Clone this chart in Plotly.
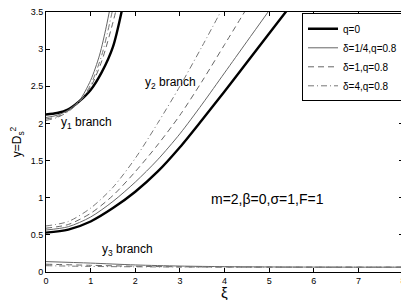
import plotly.graph_objects as go

# ---- data ----
# y1 branch
xi_y1_q0 = [0, 0.25, 0.5, 0.75, 1.0, 1.25, 1.5, 1.7]
y1_q0 = [2.12, 2.14, 2.19, 2.30, 2.45, 2.69, 3.03, 3.52]
xi_y1_d14 = [0, 0.25, 0.5, 0.75, 1.0, 1.2, 1.35, 1.45]
y1_d14 = [2.08, 2.11, 2.18, 2.31, 2.58, 2.92, 3.30, 3.60]
xi_y1_d1 = [0, 0.25, 0.5, 0.75, 1.0, 1.25, 1.5, 1.6]
y1_d1 = [2.06, 2.09, 2.17, 2.29, 2.49, 2.84, 3.36, 3.60]
xi_y1_d4 = [0, 0.25, 0.5, 0.75, 1.0, 1.25, 1.5]
y1_d4 = [2.04, 2.08, 2.16, 2.29, 2.52, 2.92, 3.55]

# y2 branch
xi_y2_q0 = [0, 0.5, 1, 1.5, 2, 2.5, 3, 3.5, 4, 4.5, 5, 5.5]
y2_q0 = [0.53, 0.57, 0.68, 0.86, 1.08, 1.35, 1.68, 2.05, 2.43, 2.82, 3.21, 3.60]
xi_y2_d14 = [0, 0.5, 1, 1.5, 2, 2.5, 3, 3.5, 4, 4.5, 5]
y2_d14 = [0.565, 0.61, 0.74, 0.95, 1.21, 1.51, 1.86, 2.26, 2.68, 3.10, 3.52]
xi_y2_d1 = [0, 0.5, 1, 1.5, 2, 2.5, 3, 3.5, 4, 4.5]
y2_d1 = [0.59, 0.64, 0.79, 1.03, 1.35, 1.71, 2.11, 2.57, 3.06, 3.55]
xi_y2_d4 = [0, 0.5, 1, 1.5, 2, 2.5, 3, 3.5, 4]
y2_d4 = [0.62, 0.68, 0.86, 1.14, 1.53, 2.00, 2.50, 3.04, 3.60]

# y3 branch
xi_y3 = [0, 1, 2, 3, 4, 5, 6, 7, 8]
y3_d14 = [0.14, 0.12, 0.095, 0.08, 0.072, 0.068, 0.066, 0.065, 0.065]
y3_d1 = [0.105, 0.09, 0.077, 0.07, 0.067, 0.066, 0.065, 0.065, 0.065]
y3_d4 = [0.085, 0.075, 0.07, 0.067, 0.066, 0.065, 0.065, 0.065, 0.065]

x_ticks = [0, 1, 2, 3, 4, 5, 6, 7, 8]
y_ticks = [0, 0.5, 1, 1.5, 2, 2.5, 3, 3.5]
y_ticklabels = ["0", "0.5", "1", "1.5", "2", "2.5", "3", "3.5"]

legend_names = ["q=0", "δ=1/4,q=0.8", "δ=1,q=0.8", "δ=4,q=0.8"]

# ---- styles ----
FONT = "Liberation Sans, Arial, Helvetica, sans-serif"
styles = {
    "q0": dict(color="black", width=2.4, dash="solid"),
    "d14": dict(color="#666666", width=1, dash="solid"),
    "d1": dict(color="#666666", width=1, dash="6px,4px"),
    "d4": dict(color="#777777", width=1, dash="6px,3px,1px,3px"),
}

fig = go.Figure()

series = [
    ("q0", legend_names[0], [(xi_y1_q0, y1_q0), (xi_y2_q0, y2_q0)]),
    ("d14", legend_names[1], [(xi_y1_d14, y1_d14), (xi_y2_d14, y2_d14), (xi_y3, y3_d14)]),
    ("d1", legend_names[2], [(xi_y1_d1, y1_d1), (xi_y2_d1, y2_d1), (xi_y3, y3_d1)]),
    ("d4", legend_names[3], [(xi_y1_d4, y1_d4), (xi_y2_d4, y2_d4), (xi_y3, y3_d4)]),
]

for key, name, parts in series:
    for i, (xs, ys) in enumerate(parts):
        fig.add_trace(go.Scatter(
            x=xs, y=ys, mode="lines", name=name,
            line=dict(shape="spline", smoothing=0.8, **styles[key]),
            legendgroup=key, showlegend=(i == 1),
        ))

annots = [
    dict(x=0.9, y=2.0, text="y<sub>1</sub> branch", xanchor="center", yanchor="middle"),
    dict(x=2.78, y=2.55, text="y<sub>2</sub> branch", xanchor="center", yanchor="middle"),
    dict(x=1.82, y=0.3, text="y<sub>3</sub> branch", xanchor="center", yanchor="middle"),
]
for a in annots:
    fig.add_annotation(xref="x", yref="y", showarrow=False,
                       font=dict(family=FONT, size=12, color="black"), **a)

fig.add_annotation(xref="x", yref="y", x=4.97, y=0.98, showarrow=False,
                   text="m=2,β=0,σ=1,F=1", xanchor="center", yanchor="middle",
                   font=dict(family=FONT, size=14, color="black"))

# x-axis title placed below the tick labels
fig.add_annotation(xref="paper", yref="paper", x=0.5, y=-0.078, showarrow=False,
                   text="ξ", xanchor="center", yanchor="middle",
                   font=dict(family=FONT, size=15, color="black"))

axis_common = dict(showline=True, linecolor="black", linewidth=1, mirror="ticks",
                   ticks="inside", ticklen=4, tickcolor="black", showgrid=False,
                   zeroline=False, automargin=False, ticklabeloverflow="allow",
                   tickfont=dict(family=FONT, size=9, color="black"))

# The page body adds an 8px margin, so the figure is sized to fit the 409x300 window.
fig.update_layout(
    width=401, height=292,
    margin=dict(l=38, r=6, t=4, b=28),
    paper_bgcolor="white", plot_bgcolor="white",
    font=dict(family=FONT, color="black"),
    xaxis=dict(range=[0, 8], tickvals=x_ticks, **axis_common),
    yaxis=dict(range=[0, 3.5], tickvals=y_ticks, ticktext=y_ticklabels,
               title=dict(text="y=D<sub>s</sub><sup>2</sup>", font=dict(family=FONT, size=12), standoff=20),
               **axis_common),
    legend=dict(x=1, xanchor="right", y=0.995, yanchor="top",
                bgcolor="white", bordercolor="black", borderwidth=1,
                font=dict(family=FONT, size=10), itemwidth=30,
                tracegroupgap=0),
    showlegend=True,
)

fig.write_html("out.html")
